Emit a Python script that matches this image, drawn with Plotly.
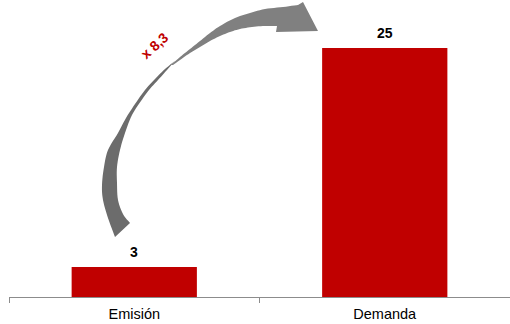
import plotly.graph_objects as go

categories = ["Emisión", "Demanda"]
values = [3, 25]
value_labels = ["3", "25"]
ratio_label = "x 8,3"

W, H = 510, 324
ML, MR, MT, MB = 9, 0, 0, 27
PW, PH = W - ML - MR, H - MT - MB
FONT = "Arial, Liberation Sans"


def px(x, y):
    return ((x - ML) / PW, (H - MB - y) / PH)


def catmull(pts, n=6):
    out = []
    for i in range(len(pts) - 1):
        p0 = pts[i - 1] if i > 0 else pts[i]
        p1, p2 = pts[i], pts[i + 1]
        p3 = pts[i + 2] if i + 2 < len(pts) else pts[i + 1]
        for k in range(n):
            t = k / n
            t2, t3 = t * t, t * t * t
            out.append(tuple(0.5 * ((2 * p1[j]) + (-p0[j] + p2[j]) * t +
                                    (2 * p0[j] - 5 * p1[j] + 4 * p2[j] - p3[j]) * t2 +
                                    (-p0[j] + 3 * p1[j] - 3 * p2[j] + p3[j]) * t3)
                            for j in range(2)))
    out.append(pts[-1])
    return out


def path(*segments):
    pts = []
    for seg, smooth in segments:
        pts += catmull(seg) if smooth else list(seg)
    s = ""
    for i, (x, y) in enumerate(pts):
        a, b = px(x, y)
        s += ("M" if i == 0 else "L") + f"{a:.5f},{b:.5f} "
    return s + "Z"


# decorative curved arrow outline (pixel geometry)
low_outer = [(115, 237), (108, 218), (103, 200), (102, 185), (104, 167), (108, 150),
             (118, 133), (126, 118), (135, 104), (145, 90), (155, 79), (165, 69), (175, 61)]
low_inner = [(175, 61), (167, 70), (158, 80), (149, 90), (141, 101), (132, 115),
             (125, 133), (120, 150), (117, 167), (117, 183), (118, 200), (123, 214), (130, 223)]
up_outer = [(171, 65), (180, 57), (190, 49), (200, 41), (210, 33), (220, 26), (235, 18),
            (250, 13), (265, 9), (283, 7), (298, 5)]
head = [(303, 2), (318, 31), (276, 32)]
up_inner = [(277, 26), (265, 26), (252, 27), (240, 29), (230, 32), (220, 36), (210, 41),
            (200, 47), (190, 53), (180, 60), (173, 65)]

fig = go.Figure()
fig.add_trace(go.Bar(x=categories, y=values, width=0.5,
                     marker=dict(color="#c00000", line=dict(width=0)),
                     hoverinfo="skip"))

annotations = []
for c, v, t in zip(categories, values, value_labels):
    annotations.append(dict(x=c, y=v, text=f"<b>{t}</b>", showarrow=False,
                            xref="x", yref="y", yanchor="bottom", yshift=5,
                            font=dict(family=FONT, size=14, color="#000000")))
ax, ay = px(154, 46)
annotations.append(dict(x=ax, y=ay, xref="paper", yref="paper", text=f"<b>{ratio_label}</b>",
                        showarrow=False, textangle=-42, xanchor="center", yanchor="middle",
                        font=dict(family=FONT, size=14, color="#c00000")))

fig.update_layout(
    width=W, height=H,
    margin=dict(l=ML, r=MR, t=MT, b=MB),
    paper_bgcolor="white", plot_bgcolor="white",
    showlegend=False,
    xaxis=dict(showline=True, linecolor="#8c8c8c", linewidth=1,
               ticks="outside", tickson="boundaries", ticklen=5, tickcolor="#8c8c8c",
               ticklabelstandoff=4,
               tickfont=dict(family=FONT, size=14.5, color="#000000"),
               showgrid=False, zeroline=False, range=[-0.5, 1.5]),
    yaxis=dict(visible=False, range=[0, 25 * PH / 249], showgrid=False, zeroline=False),
    annotations=annotations,
    shapes=[
        dict(type="path", xref="paper", yref="paper",
             path=path((low_outer, True), (low_inner, True)),
             fillcolor="#6c6c6c", line=dict(width=0), layer="above"),
        dict(type="path", xref="paper", yref="paper",
             path=path((up_outer, True), (head, False), (up_inner, True)),
             fillcolor="#808080", line=dict(width=0), layer="above"),
    ],
    bargap=0.5,
)

fig.write_html("out.html", config={"displayModeBar": False})
